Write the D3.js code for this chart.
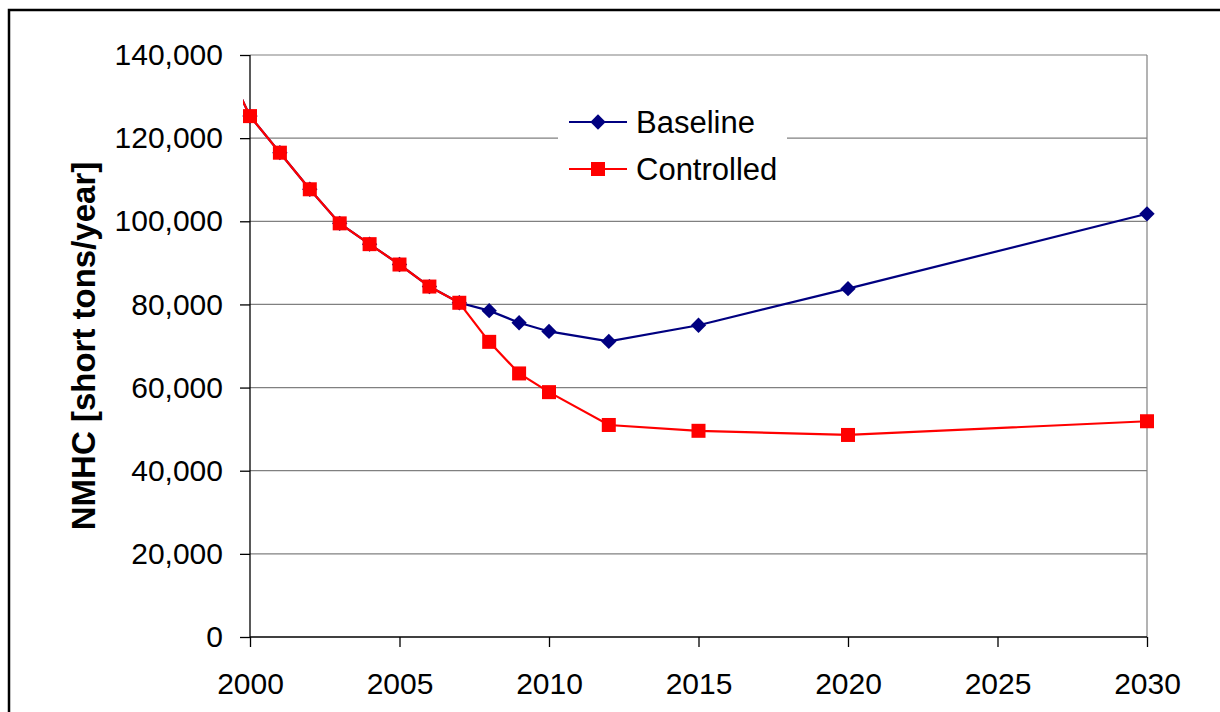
<!DOCTYPE html>
<html lang="en">
<head>
    <meta charset="utf-8">
    <title>NMHC emissions</title>
    <script type="text/javascript" src="https://cdn.jsdelivr.net/npm/d3@7"></script>
    <style>
        body { margin: 0; background: #fff; }
        text { font-family: Arial, "Liberation Sans", sans-serif; }
    </style>
</head>
<body>
<div id="graph"></div>
<script type="text/javascript">
    var years = [1999, 2000, 2001, 2002, 2003, 2004, 2005, 2006, 2007, 2008, 2009, 2010, 2012, 2015, 2020, 2030];
    var baseline = [140500, 125300, 116500, 107700, 99500, 94500, 89600, 84300, 80400, 78500, 75600, 73500, 71100, 75000, 83800, 101800];
    var controlled = [140500, 125300, 116500, 107700, 99500, 94500, 89600, 84300, 80400, 71000, 63400, 58900, 51000, 49600, 48600, 51900];
    var yTicks = [0, 20000, 40000, 60000, 80000, 100000, 120000, 140000];
    var xTicks = [2000, 2005, 2010, 2015, 2020, 2025, 2030];
    var seriesNames = ["Baseline", "Controlled"];

    var w = 1220;
    var h = 712;

    var x = d3.scaleLinear().domain([2000, 2030]).range([250, 1147]);
    var y = d3.scaleLinear().domain([0, 140000]).range([637, 55]);

    var svg = d3.select("#graph")
        .append("svg")
        .attr("width", w)
        .attr("height", h);

    // outer chart frame (runs off the right and bottom of the picture)
    svg.append("rect")
        .attr("x", 9).attr("y", 10)
        .attr("width", w + 20).attr("height", h + 20)
        .attr("fill", "none")
        .attr("stroke", "#000")
        .attr("stroke-width", 2.5);

    // gridlines
    svg.selectAll(".grid")
        .data(yTicks.filter(function (d) { return d > 0; }))
        .enter()
        .append("line")
        .attr("x1", x(2000)).attr("x2", x(2030))
        .attr("y1", function (d) { return y(d); })
        .attr("y2", function (d) { return y(d); })
        .attr("stroke", "#808080")
        .attr("stroke-width", 1.2);

    // right edge of plot area
    svg.append("line")
        .attr("x1", x(2030)).attr("x2", x(2030))
        .attr("y1", y(140000)).attr("y2", y(0))
        .attr("stroke", "#808080")
        .attr("stroke-width", 1.2);

    var yAxis = d3.axisLeft(y)
        .tickValues(yTicks)
        .tickSize(10)
        .tickPadding(17)
        .tickFormat(d3.format(","));

    var xAxis = d3.axisBottom(x)
        .tickValues(xTicks)
        .tickSize(10)
        .tickPadding(26)
        .tickFormat(d3.format("d"));

    var gy = svg.append("g")
        .attr("transform", "translate(" + x(2000) + ",0)")
        .call(yAxis);

    var gx = svg.append("g")
        .attr("transform", "translate(0," + y(0) + ")")
        .call(xAxis);

    [gx, gy].forEach(function (g) {
        g.select(".domain").attr("stroke", "#000").attr("stroke-width", 1.3);
        g.selectAll(".tick line").attr("stroke", "#000").attr("stroke-width", 1.3);
        g.selectAll(".tick text")
            .attr("fill", "#000")
            .style("font-size", "30px")
            .style("font-family", "Arial, 'Liberation Sans', sans-serif");
    });
    gy.select(".domain").attr("d", "M0," + y(140000) + "V" + y(0));
    gx.select(".domain").attr("d", "M" + x(2000) + ",0H" + x(2030));

    svg.append("text")
        .attr("text-anchor", "middle")
        .attr("transform", "translate(95,346)rotate(-90)")
        .style("font-size", "33px")
        .style("font-weight", "bold")
        .text("NMHC [short tons/year]");

    // lines are clipped just left of the axis, like the original
    svg.append("clipPath")
        .attr("id", "clip")
        .append("rect")
        .attr("x", 243).attr("y", 0)
        .attr("width", w).attr("height", h);

    var line = d3.line()
        .x(function (d) { return x(d[0]); })
        .y(function (d) { return y(d[1]); });

    var basePts = years.map(function (yr, i) { return [yr, baseline[i]]; });
    var ctrlPts = years.map(function (yr, i) { return [yr, controlled[i]]; });

    svg.append("path")
        .datum(basePts)
        .attr("clip-path", "url(#clip)")
        .attr("d", line)
        .attr("fill", "none")
        .attr("stroke", "#000080")
        .attr("stroke-width", 2.2);

    svg.selectAll(".diamond")
        .data(basePts.filter(function (d) { return d[0] >= 2000; }))
        .enter()
        .append("path")
        .attr("d", d3.symbol().type(d3.symbolDiamond2).size(150))
        .attr("transform", function (d) { return "translate(" + x(d[0]) + "," + y(d[1]) + ")"; })
        .attr("fill", "#000080");

    svg.append("path")
        .datum(ctrlPts)
        .attr("clip-path", "url(#clip)")
        .attr("d", line)
        .attr("fill", "none")
        .attr("stroke", "#ff0000")
        .attr("stroke-width", 2.2);

    svg.selectAll(".square")
        .data(ctrlPts.filter(function (d) { return d[0] >= 2000; }))
        .enter()
        .append("rect")
        .attr("x", function (d) { return x(d[0]) - 7; })
        .attr("y", function (d) { return y(d[1]) - 7; })
        .attr("width", 14)
        .attr("height", 14)
        .attr("fill", "#ff0000");

    // legend
    var legend = svg.append("g");
    legend.append("rect")
        .attr("x", 558).attr("y", 100)
        .attr("width", 229).attr("height", 92)
        .attr("fill", "#fff");

    var colors = ["#000080", "#ff0000"];
    seriesNames.forEach(function (name, i) {
        var ly = 122 + i * 47;
        legend.append("line")
            .attr("x1", 569).attr("x2", 627)
            .attr("y1", ly).attr("y2", ly)
            .attr("stroke", colors[i])
            .attr("stroke-width", 2.2);
        if (i === 0) {
            legend.append("path")
                .attr("d", d3.symbol().type(d3.symbolDiamond2).size(150))
                .attr("transform", "translate(598," + ly + ")")
                .attr("fill", colors[i]);
        } else {
            legend.append("rect")
                .attr("x", 591).attr("y", ly - 7)
                .attr("width", 14).attr("height", 14)
                .attr("fill", colors[i]);
        }
        legend.append("text")
            .attr("x", 636)
            .attr("y", ly)
            .attr("dy", "0.35em")
            .style("font-size", "31px")
            .text(name);
    });
</script>
</body>
</html>
